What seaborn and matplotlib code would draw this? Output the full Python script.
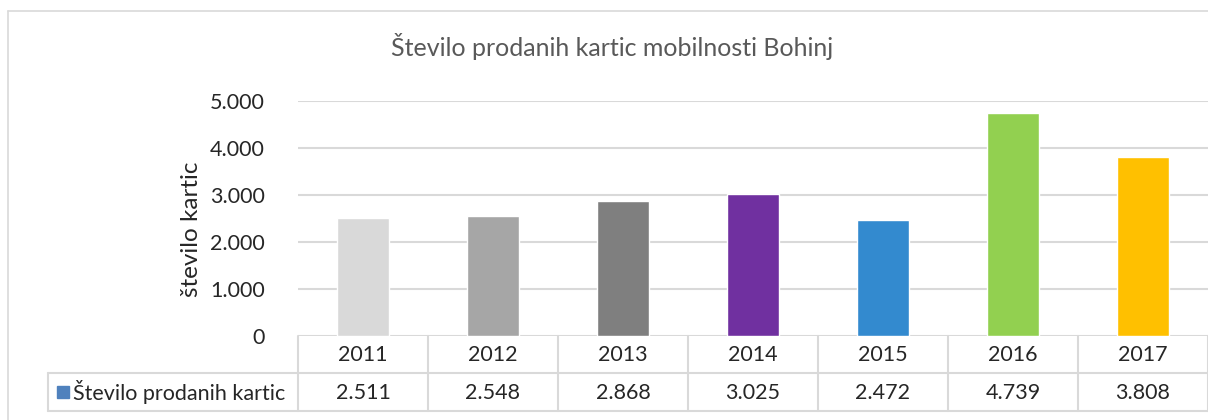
import matplotlib
matplotlib.use("Agg")
import matplotlib.pyplot as plt
import seaborn as sns
import pandas as pd
from matplotlib.ticker import FuncFormatter

years = ["2011", "2012", "2013", "2014", "2015", "2016", "2017"]
cards = [2511, 2548, 2868, 3025, 2472, 4739, 3808]
bar_colors = ["#D9D9D9", "#A6A6A6", "#7F7F7F", "#7030A0", "#338ACF", "#92D050", "#FFC000"]
series_name = "Število prodanih kartic"
title = "Število prodanih kartic mobilnosti Bohinj"
ylabel = "število kartic"
yticks = [0, 1000, 2000, 3000, 4000, 5000]


def fmt_num(v):
    return f"{int(v):,}".replace(",", ".")


sns.set_theme(style="white")
plt.rcParams["font.family"] = ["Lato", "DejaVu Sans"]

W, H = 1208, 420
fig = plt.figure(figsize=(W / 100, H / 100), dpi=100)

# overlay axes in pixel coordinates for frame and table grid
ov = fig.add_axes([0, 0, 1, 1])
ov.set_xlim(0, W)
ov.set_ylim(H, 0)
ov.axis("off")

grid_c = "#D9D9D9"
ov.plot([8, 8], [11, H], color=grid_c, lw=1.2)
ov.plot([8, W], [11, 11], color=grid_c, lw=1.2)

x0, cw = 298, 130
ov.plot([48, W], [373, 373], color=grid_c, lw=1.5)
ov.plot([48, W], [411, 411], color=grid_c, lw=1.5)
ov.plot([48, 48], [373, 411], color=grid_c, lw=1.5)
for k in range(len(years) + 1):
    ov.plot([x0 + cw * k] * 2, [336, 411], color=grid_c, lw=1.5)

text_c = "#262626"
fs = 15.5
for i, (yr, v) in enumerate(zip(years, cards)):
    cx = x0 + cw * (i + 0.5)
    ov.text(cx, 355, yr, ha="center", va="center", fontsize=fs, color=text_c)
    ov.text(cx, 393, fmt_num(v), ha="center", va="center", fontsize=fs, color=text_c)

ov.add_patch(plt.Rectangle((57, 386), 12, 12, color="#4F81BD"))
ov.text(73, 392, series_name, ha="left", va="center", fontsize=fs, color=text_c)

ov.text(612, 47, title, ha="center", va="center", fontsize=18, color="#595959")

# bar axes
ax_left = x0 / W
ax_bottom = 1 - 336 / H
ax_top = 1 - 101 / H
ax = fig.add_axes([ax_left, ax_bottom, 1 - ax_left, ax_top - ax_bottom])

df = pd.DataFrame({"year": years, "cards": cards})
sns.barplot(data=df, x="year", y="cards", hue="year", palette=bar_colors,
            width=0.4, legend=False, ax=ax, saturation=1)

ax.set_xlim(-0.5, len(years) - 0.5)
ax.set_ylim(0, 5000)
ax.set_yticks(yticks)
ax.yaxis.set_major_formatter(FuncFormatter(lambda v, p: fmt_num(v)))
ax.tick_params(axis="y", length=0, pad=24, labelsize=fs, labelcolor=text_c)
ax.set_xticks([])
ax.set_xlabel("")
ax.set_ylabel(ylabel, fontsize=17.5, color=text_c)
ax.yaxis.set_label_coords(-0.106, 0.455)
ax.grid(axis="y", color=grid_c, lw=1.5)
ax.set_axisbelow(True)
for s in ax.spines.values():
    s.set_visible(False)
ax.patch.set_alpha(0)

fig.savefig("out.png", dpi=100)
